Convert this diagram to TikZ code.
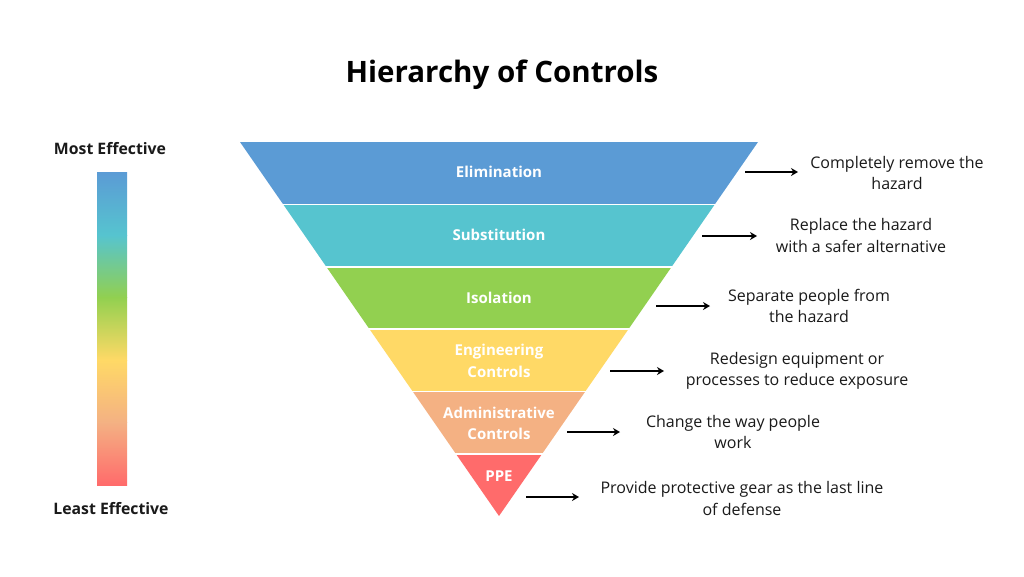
\documentclass[tikz,border=0pt]{standalone}
\usepackage{fontspec}
\setmainfont{Open Sans}
\usetikzlibrary{arrows.meta}
\definecolor{cblue}{HTML}{5B9BD5}
\definecolor{cteal}{HTML}{56C4CF}
\definecolor{cgreen}{HTML}{92D050}
\definecolor{cyellow}{HTML}{FFD966}
\definecolor{cpeach}{HTML}{F4B183}
\definecolor{cred}{HTML}{FF6B6B}
\definecolor{ctext}{HTML}{1A1A1A}
\tikzset{
  band/.style={draw=white,line width=1.6pt},
  bandlabel/.style={text=white,font=\fontsize{15}{21.5}\selectfont\bfseries,align=center},
  desc/.style={text=ctext,font=\fontsize{16}{21.5}\selectfont,align=center},
  side/.style={text=ctext,font=\fontsize{15.8}{18}\selectfont\bfseries},
  arr/.style={line width=1.6pt,-{Stealth[length=7pt,width=8pt]}},
}
\begin{document}
\begin{tikzpicture}[x=1pt,y=-1pt]
\useasboundingbox (0,0) rectangle (1024,576);
\fill[white] (0,0) rectangle (1024,576);
% title
\node[text=black,font=\fontsize{29.5}{34}\selectfont\bfseries] (title) at (502,75) {Hierarchy of Controls};
% gradient bar
\shade[top color=cblue,bottom color=cteal] (97,172) rectangle (127,235.1);
\shade[top color=cteal,bottom color=cgreen] (97,235) rectangle (127,297.6);
\shade[top color=cgreen,bottom color=cyellow] (97,297.5) rectangle (127,360.1);
\shade[top color=cyellow,bottom color=cpeach] (97,360) rectangle (127,422.6);
\shade[top color=cpeach,bottom color=cred] (97,422.5) rectangle (127,485);
\node[side] (most) at (110,149) {Most Effective};
\node[side] (least) at (111,509) {Least Effective};
% triangle bands: half width = (516-y)/374*259
\fill[cblue]   (240,142) -- (758,142) -- (714.85,204.3) -- (283.15,204.3) -- cycle;
\fill[cteal]   (283.15,204.3) -- (714.85,204.3) -- (671.7,266.7) -- (326.3,266.7) -- cycle;
\fill[cgreen]  (326.3,266.7) -- (671.7,266.7) -- (628.6,329) -- (369.4,329) -- cycle;
\fill[cyellow] (369.4,329) -- (628.6,329) -- (585.4,391.3) -- (412.6,391.3) -- cycle;
\fill[cpeach]  (412.6,391.3) -- (585.4,391.3) -- (542.2,453.7) -- (455.8,453.7) -- cycle;
\fill[cred]    (455.8,453.7) -- (542.2,453.7) -- (499,516) -- cycle;
\draw[band] (280,204.3) -- (718,204.3);
\draw[band] (323,266.7) -- (675,266.7);
\draw[band] (366,329) -- (632,329);
\draw[band] (409,391.3) -- (589,391.3);
\draw[band] (452,453.7) -- (546,453.7);
% band labels
\node[bandlabel] (elim) at (499,172) {Elimination};
\node[bandlabel] (subs) at (499,235) {Substitution};
\node[bandlabel] (isol) at (499,298) {Isolation};
\node[bandlabel] (eng) at (499,361) {Engineering\\Controls};
\node[bandlabel] (adm) at (499,423.5) {Administrative\\Controls};
\node[bandlabel] (ppe) at (499,476) {PPE};
% descriptions
\node[desc] (d1) at (897,173) {Completely remove the\\hazard};
\node[desc] (d2) at (861,235.5) {Replace the hazard\\with a safer alternative};
\node[desc] (d3) at (809,306) {Separate people from\\the hazard};
\node[desc] (d4) at (797,371) {Redesign equipment or\\processes to reduce exposure};
\node[desc] (d5) at (733,432) {Change the way people\\work};
\node[desc] (d6) at (742,498.5) {Provide protective gear as the last line\\of defense};
% arrows
\coordinate (a1s) at (745,172); \coordinate (a1e) at (798,172);
\coordinate (a2s) at (702,236); \coordinate (a2e) at (757,236);
\coordinate (a3s) at (656,306); \coordinate (a3e) at (710,306);
\coordinate (a4s) at (610,371); \coordinate (a4e) at (664,371);
\coordinate (a5s) at (567,432); \coordinate (a5e) at (620,432);
\coordinate (a6s) at (526,497); \coordinate (a6e) at (579,497);
\draw[arr] (a1s) -- (a1e);
\draw[arr] (a2s) -- (a2e);
\draw[arr] (a3s) -- (a3e);
\draw[arr] (a4s) -- (a4e);
\draw[arr] (a5s) -- (a5e);
\draw[arr] (a6s) -- (a6e);
\end{tikzpicture}
\end{document}
